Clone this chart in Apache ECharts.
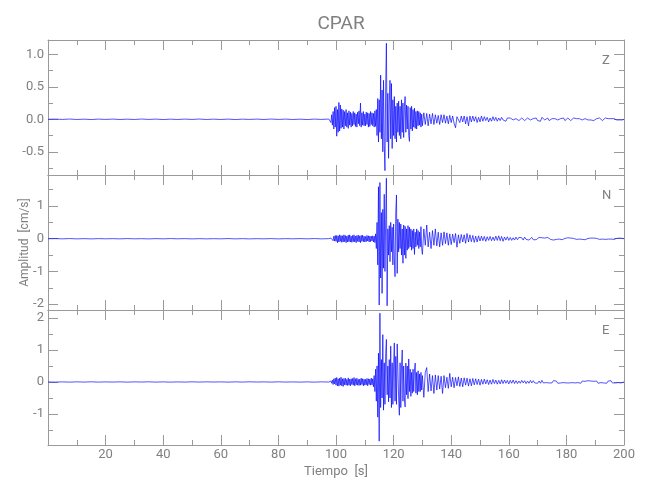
<!DOCTYPE html>
<html><head><meta charset="utf-8">
<script src="https://cdn.jsdelivr.net/npm/echarts@6/dist/echarts.min.js"></script>
<style>html,body{margin:0;padding:0;background:#fff}#c{width:650px;height:500px}</style>
</head><body><div id="c"></div>
<script>
// ---- sampling of the three trace segments (seconds) ----
const preStart = 0, preStep = 2.5;     // 0 .. 97.5
const mainStart = 98, mainStep = 0.25; // 98 .. 130
const tailStart = 130.5, tailStep = 0.5; // 130.5 .. 200

// ---- component labels ----
const components = ['Z', 'N', 'E'];

// ---- Z component ----
const zPre = [0,0.003,-0.002,0.004,-0.003,0.002,-0.004,0.003,-0.002,0.003,
  -0.003,0.002,-0.003,0.004,-0.002,0.003,-0.004,0.002,-0.003,0.003,
  -0.002,0.004,-0.003,0.002,-0.003,0.003,-0.004,0.002,-0.002,0.003,
  -0.003,0.004,-0.002,0.003,-0.003,0.002,-0.004,0.003,-0.002,0.004];
const zMain = [
  0.02,-0.05,0.07,-0.09,  0.12,-0.15,0.18,-0.12,  0.2,-0.26,0.15,-0.2,  0.26,-0.18,0.22,-0.14,
  0.16,-0.12,0.14,-0.15,  0.12,-0.1,0.15,-0.12,   0.1,-0.14,0.13,-0.09, 0.11,-0.12,0.09,-0.1,
  0.12,-0.08,0.1,-0.11,   0.08,-0.12,0.11,-0.07,  0.13,-0.1,0.25,-0.12, 0.1,-0.09,0.12,-0.1,
  0.08,-0.1,0.11,-0.08,   0.1,-0.12,0.09,-0.11,   0.12,-0.08,0.1,-0.1,  0.09,-0.12,0.13,-0.11,
  0.15,-0.25,0.32,-0.35,  0.3,-0.2,0.68,-0.3,     0.45,-0.5,0.6,-0.4,   -0.79,0.5,1.17,-0.35,
  0.4,-0.6,0.25,0.6,      -0.3,0.55,-0.45,0.3,    -0.25,0.35,-0.3,0.2,  -0.35,0.25,-0.2,0.28,
  -0.25,0.2,-0.3,0.3,     -0.2,0.25,-0.28,0.2,    0.35,-0.2,0.22,-0.15, 0.2,-0.25,-0.34,0.18,
  -0.15,0.2,-0.18,0.15,   -0.12,0.17,-0.14,0.12,  -0.15,0.13,-0.1,0.12, -0.09,0.1,-0.12,0.08,
  -0.1];
const zTail = [
  0.1,-0.08,0.09,-0.1,0.08,-0.07,0.09,-0.08,0.07,-0.06,
  0.06,-0.08,0.07,-0.05,0.07,-0.06,0.05,-0.07,0.06,-0.05,
  0.05,-0.06,-0.13,0.04,0.06,-0.05,0.05,-0.04,0.05,-0.07,
  0.04,-0.1,0.05,-0.04,0.05,-0.03,0.04,-0.05,0.03,-0.04,
  0.05,-0.03,0.04,-0.02,0.03,-0.04,0.02,-0.03,0.04,-0.02,
  0.03,-0.03,0.02,-0.02,0.03,-0.01,0.02,-0.03,0.02,-0.01,
  0.02,0.03,-0.01,-0.02,0.01,0.02,-0.02,0.01,0.02,-0.01,
  -0.02,0.01,0.02,0.03,-0.01,-0.02,0.01,0.03,0.02,-0.02,
  -0.05,-0.03,0.03,0.02,-0.01,0.01,0.02,-0.02,-0.01,0.01,
  0.02,0.01,-0.02,-0.01,0.02,0.01,-0.01,0.02,-0.02,0.01,
  0.02,-0.01,-0.02,0.01,0.02,-0.01,0.01,-0.02,0.01,0.02,
  -0.01,-0.02,0.01,0.02,-0.01,0.01,-0.01,0.02,-0.02,0.01,
  0.01,-0.01,0.02,-0.01,-0.02,0.01,0.02,-0.01,0.01,-0.01,
  0.01,-0.02,0.01,0.01,-0.01,0.02,-0.01,0.01,-0.01,0];

// ---- N component ----
const nPre = [0,0.004,-0.003,0.005,-0.004,0.003,-0.005,0.004,-0.002,0.003,
  -0.004,0.005,-0.003,0.002,-0.005,0.004,-0.003,0.005,-0.002,0.004,
  -0.005,0.003,-0.004,0.002,-0.003,0.005,-0.004,0.003,-0.005,0.002,
  -0.003,0.004,-0.005,0.003,-0.002,0.004,-0.003,0.005,-0.004,0.003];
const nMain = [
  0.0,0.02,-0.03,0.05,    -0.06,0.08,-0.07,0.1,   -0.08,0.1,-0.12,0.09,  -0.1,0.12,-0.08,0.1,
  -0.11,0.09,-0.1,0.12,   -0.09,0.1,-0.12,0.08,   -0.1,0.11,-0.09,0.12,  -0.1,0.08,-0.11,0.1,
  -0.09,0.12,-0.1,0.08,   -0.12,0.1,-0.08,0.11,   -0.1,0.09,-0.12,0.1,   -0.08,0.11,-0.09,0.08,
  -0.1,0.07,-0.09,0.1,    -0.07,0.09,-0.1,0.08,   -0.09,0.08,-0.07,0.09, -0.1,0.08,-0.12,0.15,
  -0.3,0.5,-0.8,1.59,     -2.03,1.72,-1.2,0.8,    -1.67,0.9,-0.9,1.36,   -1.0,0.6,1.85,-2.05,
  0.3,-0.5,0.4,-0.7,      0.5,-0.4,0.35,-0.8,     0.45,-0.6,-1.16,0.8,   1.34,-1.06,0.6,-0.4,
  0.5,-0.3,0.45,-0.5,     0.3,-0.75,0.42,-0.5,    0.38,-0.6,0.3,-0.35,   0.4,-0.3,0.35,-0.25,
  0.3,-0.35,0.25,-0.3,    0.3,-0.48,0.2,-0.25,    0.3,-0.2,0.25,-0.3,    0.2,-0.25,0.37,-0.3,
  -0.48];
const nTail = [
  0.3,-0.2,0.42,-0.25,0.2,-0.3,0.25,-0.2,0.3,-0.22,
  0.2,-0.25,0.18,-0.2,0.21,-0.15,0.18,-0.2,0.15,-0.18,
  0.14,-0.12,0.16,-0.26,0.12,-0.14,0.13,-0.1,0.12,-0.14,
  0.16,-0.1,0.12,-0.09,0.1,-0.11,0.08,-0.1,0.09,-0.07,
  0.08,-0.06,0.07,-0.08,0.06,-0.05,0.07,-0.06,0.05,-0.06,
  0.08,-0.05,0.09,-0.06,0.07,-0.08,0.05,-0.04,0.06,-0.05,
  0.04,-0.05,0.03,-0.04,0.05,-0.03,0.04,-0.02,0.03,-0.04,
  0.05,-0.02,0.03,-0.04,0.02,0.04,-0.03,0.02,-0.03,0.02,
  0.04,-0.02,0.03,-0.03,0.02,-0.02,0.04,0.02,-0.02,0.03,
  -0.04,0.02,-0.02,0.03,-0.01,0.02,-0.03,0.02,0.01,-0.02,
  0.03,-0.02,0.02,-0.03,0.01,0.02,-0.02,0.03,-0.01,0.02,
  -0.02,0.01,-0.03,0.02,0.01,-0.02,0.02,-0.01,0.02,-0.02,
  0.01,0.02,-0.02,0.01,-0.01,0.02,-0.02,0.01,-0.01,0.02,
  -0.01,0.01,-0.02,0.01,0.01,-0.01,0.02,-0.01,0.01,0];

// ---- E component ----
const ePre = [0,-0.004,0.003,-0.005,0.004,-0.003,0.005,-0.004,0.002,-0.003,
  0.004,-0.005,0.003,-0.002,0.005,-0.004,0.003,-0.005,0.002,-0.004,
  0.005,-0.003,0.004,-0.002,0.003,-0.005,0.004,-0.003,0.005,-0.002,
  0.003,-0.004,0.005,-0.003,0.002,-0.004,0.003,-0.005,0.004,-0.003];
const eMain = [
  0.0,0.03,-0.04,0.06,    -0.08,0.1,-0.06,0.12,   -0.1,0.14,-0.12,0.1,   -0.13,0.12,-0.1,0.15,
  -0.12,0.1,-0.14,0.11,   -0.09,0.12,-0.1,0.08,   -0.11,0.13,-0.1,0.09,  -0.12,0.1,-0.08,0.11,
  -0.1,0.14,-0.12,0.1,    -0.09,0.12,-0.1,0.08,   -0.11,0.09,-0.1,0.12,  -0.08,0.1,-0.12,0.09,
  -0.1,0.08,-0.09,0.11,   -0.12,0.1,-0.08,0.09,   -0.1,0.12,-0.09,0.1,   -0.15,0.2,-0.3,0.4,
  -0.6,0.5,-1.1,0.9,      -1.85,2.15,-0.8,0.7,    -0.5,1.48,-0.88,0.6,   -0.7,0.9,1.33,-0.4,
  0.5,-0.62,0.7,-0.5,     1.12,-0.8,0.6,-0.7,     0.5,1.22,-0.6,0.8,     -0.7,1.19,1.22,-0.5,
  -1.04,0.6,-0.8,0.5,     1.0,-0.6,0.5,-0.5,      -0.78,0.59,-0.4,0.5,   -0.52,0.72,-0.3,0.4,
  -0.45,0.3,-0.35,0.4,    -0.3,0.38,0.59,-0.35,   0.3,-0.4,0.35,-0.3,    0.25,-0.3,0.3,-0.25,
  0.2];
const eTail = [
  -0.48,0.3,0.45,-0.3,0.25,-0.28,0.2,-0.36,0.22,-0.25,
  0.2,-0.22,0.18,-0.36,0.2,-0.18,0.15,-0.2,0.27,-0.15,
  0.15,-0.18,0.14,-0.12,0.16,-0.14,0.12,-0.15,0.13,-0.1,
  0.12,-0.13,0.1,-0.12,0.11,-0.09,0.1,-0.08,0.09,-0.1,
  0.08,-0.07,0.09,-0.06,0.07,-0.08,0.06,-0.07,0.08,-0.05,
  0.06,-0.07,0.05,-0.06,0.07,-0.05,0.06,-0.04,0.05,-0.06,
  0.05,-0.04,0.06,-0.05,0.04,-0.05,0.03,-0.04,0.05,-0.03,
  0.04,-0.05,0.03,-0.04,0.05,-0.03,0.04,-0.03,0.03,-0.04,
  0.03,-0.04,0.05,-0.03,0.03,-0.02,0.04,-0.03,0.02,-0.03,
  0.04,-0.02,0.03,-0.04,0.02,-0.03,0.03,-0.02,0.04,-0.03,
  0.02,-0.03,0.03,-0.02,0.04,-0.03,0.02,-0.02,0.03,-0.04,
  0.03,-0.02,0.02,-0.03,0.04,-0.02,0.03,-0.03,0.02,-0.02,
  0.03,-0.04,0.02,-0.02,0.03,-0.03,0.02,-0.04,0.03,-0.02,
  0.04,-0.03,0.02,-0.03,0.03,-0.02,0.04,-0.03,0.03,0];

// ---- axis extents ----
const xMin = 0, xMax = 200, xInterval = 20;
const yExtents = [[-0.857, 1.22], [-2.18, 1.95], [-1.97, 2.25]];
const yDecimals = [1, 0, 0];

const traces = [[zPre, zMain, zTail], [nPre, nMain, nTail], [ePre, eMain, eTail]];

function buildSeries(pre, main, tail) {
  const d = [];
  pre.forEach((v, i) => d.push([preStart + i * preStep, v]));
  main.forEach((v, i) => d.push([mainStart + i * mainStep, v]));
  tail.forEach((v, i) => d.push([tailStart + i * tailStep, v]));
  return d;
}

const FONT = "Roboto,'Liberation Sans Narrow',sans-serif";
const AX = '#9a9a9a', TXT = '#808080';
const gridTops = [40, 175, 310];

const grid = gridTops.map(t => ({ left: 48, width: 576, top: t, height: 135 }));
const xAxis = [], yAxis = [], series = [];

gridTops.forEach((t, g) => {
  ['bottom', 'top'].forEach(pos => {
    const labelled = (g === 2 && pos === 'bottom');
    xAxis.push({
      gridIndex: g, type: 'value', position: pos, min: xMin, max: xMax, interval: xInterval,
      axisLine: { show: true, onZero: false, lineStyle: { color: AX, width: 1 } },
      axisTick: { show: true, inside: true, length: 10, lineStyle: { color: AX } },
      minorTick: { show: true, splitNumber: 2, length: 5, lineStyle: { color: AX } },
      splitLine: { show: false },
      axisLabel: { show: labelled, showMinLabel: false, color: TXT, fontFamily: FONT, fontSize: 13, margin: 3 },
      name: labelled ? 'Tiempo  [s]' : '', nameLocation: 'middle', nameGap: 20, nameMoveOverlap: false,
      nameTextStyle: { color: TXT, fontFamily: FONT, fontSize: 13 }
    });
  });
  ['left', 'right'].forEach(pos => {
    const labelled = pos === 'left';
    yAxis.push({
      gridIndex: g, type: 'value', position: pos, min: yExtents[g][0], max: yExtents[g][1], splitNumber: 5,
      axisLine: { show: true, onZero: false, lineStyle: { color: AX, width: 1 } },
      axisTick: { show: true, inside: true, length: 10, lineStyle: { color: AX } },
      minorTick: { show: true, splitNumber: 2, length: 5, lineStyle: { color: AX } },
      splitLine: { show: false },
      axisLabel: { show: labelled, showMinLabel: false, showMaxLabel: false, color: TXT, fontFamily: FONT, fontSize: 13, margin: 4,
        formatter: v => v.toFixed(yDecimals[g]) },
      name: (labelled && g === 1) ? 'Amplitud  [cm/s]' : '', nameLocation: 'middle', nameGap: 17, nameMoveOverlap: false,
      nameTextStyle: { color: TXT, fontFamily: FONT, fontSize: 12 }
    });
  });
  series.push({
    type: 'line', xAxisIndex: 2 * g, yAxisIndex: 2 * g,
    data: buildSeries(...traces[g]), showSymbol: false, symbol: 'none', silent: true,
    lineStyle: { color: '#0000ff', width: 0.75, opacity: 0.9 }, animation: false, sampling: null
  });
});

const chart = echarts.init(document.getElementById('c'), null, { renderer: 'canvas' });
chart.setOption({
  backgroundColor: '#ffffff',
  animation: false,
  title: { text: 'CPAR', left: 336, textAlign: 'center', top: 10,
    textStyle: { color: TXT, fontFamily: FONT, fontSize: 19, fontWeight: 'normal' } },
  grid, xAxis, yAxis, series,
  graphic: components.map((c, g) => ({
    type: 'text', left: 602, top: gridTops[g] + 14,
    style: { text: c, fill: TXT, font: '13px ' + FONT }
  }))
});
</script>
</body></html>
